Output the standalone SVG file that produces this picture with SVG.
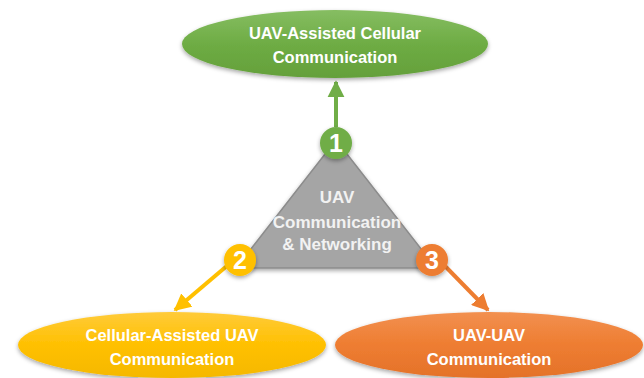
<svg xmlns="http://www.w3.org/2000/svg" width="644" height="378" viewBox="0 0 644 378">
<style>
.lbl{font-family:"Liberation Sans",Arial,sans-serif;font-weight:bold;font-size:16.5px;fill:#ffffff;text-anchor:middle}
.tri{font-family:"Liberation Sans",Arial,sans-serif;font-weight:bold;font-size:17px;fill:#f2f2f2;text-anchor:middle}
.num{font-family:"Liberation Sans",Arial,sans-serif;font-weight:bold;font-size:25px;fill:#ffffff;text-anchor:middle}
</style>
<defs>
<linearGradient id="gG" x1="0" y1="0" x2="0" y2="1"><stop offset="0" stop-color="#86bd62"/><stop offset="0.5" stop-color="#6eac44"/><stop offset="1" stop-color="#64a03b"/></linearGradient>
<linearGradient id="gY" x1="0" y1="0" x2="0" y2="1"><stop offset="0" stop-color="#ffcb3a"/><stop offset="0.5" stop-color="#ffc000"/><stop offset="1" stop-color="#f5b800"/></linearGradient>
<linearGradient id="gO" x1="0" y1="0" x2="0" y2="1"><stop offset="0" stop-color="#f29050"/><stop offset="0.5" stop-color="#ee7d31"/><stop offset="1" stop-color="#e4722a"/></linearGradient>
<filter id="sh" x="-10%" y="-20%" width="120%" height="150%"><feDropShadow dx="0" dy="2" stdDeviation="2" flood-color="#000" flood-opacity="0.35"/></filter>
<marker id="aG" viewBox="0 0 10 10" refX="9" refY="5" markerWidth="4.3" markerHeight="4.3" orient="auto"><path d="M0,0 L10,5 L0,10 z" fill="#70ad47"/></marker>
<marker id="aY" viewBox="0 0 10 10" refX="9" refY="5" markerWidth="4.3" markerHeight="4.3" orient="auto"><path d="M0,0 L10,5 L0,10 z" fill="#ffc000"/></marker>
<marker id="aO" viewBox="0 0 10 10" refX="9" refY="5" markerWidth="4.3" markerHeight="4.3" orient="auto"><path d="M0,0 L10,5 L0,10 z" fill="#ed7d31"/></marker>
</defs>
<rect width="644" height="378" fill="#ffffff"/>
<g id="center">
<polygon points="336,140 236,268 436,268" fill="#a5a5a5" stroke="#8c8c8c" stroke-width="1.5" stroke-linejoin="round" filter="url(#sh)"/>
<text class="tri" x="337" y="203">UAV</text>
<text class="tri" x="337" y="228">Communication</text>
<text class="tri" x="337" y="250">&amp; Networking</text>
</g>
<g id="connectors">
<line x1="336" y1="127" x2="336" y2="82" stroke="#70ad47" stroke-width="4" marker-end="url(#aG)"/>
<line x1="228" y1="265" x2="175" y2="310" stroke="#ffc000" stroke-width="4" marker-end="url(#aY)"/>
<line x1="444" y1="265" x2="488" y2="310" stroke="#ed7d31" stroke-width="4" marker-end="url(#aO)"/>
</g>
<g id="node1">
<ellipse cx="335" cy="44" rx="153" ry="34" fill="url(#gG)" filter="url(#sh)"/>
<text class="lbl" x="335" y="39">UAV-Assisted Cellular</text>
<text class="lbl" x="335" y="63">Communication</text>
</g>
<g id="node2">
<ellipse cx="172" cy="345" rx="154" ry="33" fill="url(#gY)" filter="url(#sh)"/>
<text class="lbl" x="172" y="341">Cellular-Assisted UAV</text>
<text class="lbl" x="172" y="365">Communication</text>
</g>
<g id="node3">
<ellipse cx="489" cy="345" rx="154" ry="33" fill="url(#gO)" filter="url(#sh)"/>
<text class="lbl" x="489" y="341">UAV-UAV</text>
<text class="lbl" x="489" y="365">Communication</text>
</g>
<g id="badge1">
<circle cx="336" cy="143" r="16" fill="#70ad47" filter="url(#sh)"/>
<text class="num" x="336" y="152">1</text>
</g>
<g id="badge2">
<circle cx="240" cy="260" r="16" fill="#ffc000" filter="url(#sh)"/>
<text class="num" x="240" y="269">2</text>
</g>
<g id="badge3">
<circle cx="432" cy="260" r="16" fill="#ed7d31" filter="url(#sh)"/>
<text class="num" x="432" y="269">3</text>
</g>
</svg>
